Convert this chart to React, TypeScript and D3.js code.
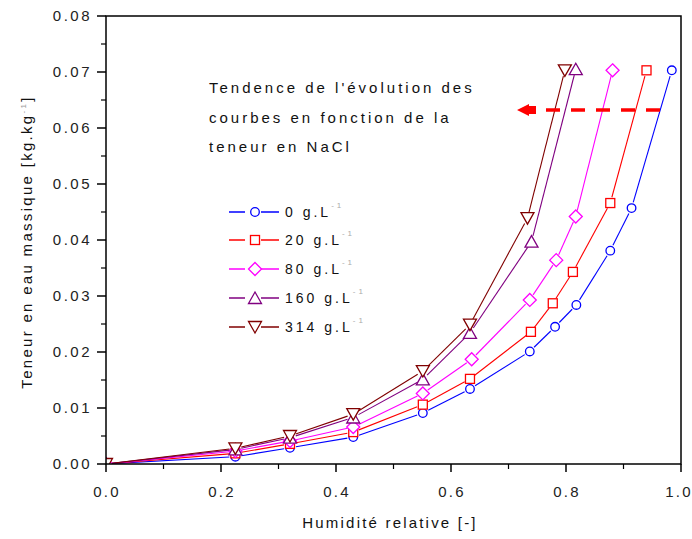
import React from "react";
import * as d3 from "d3";

const seriesNames = ["0 g.L", "20 g.L", "80 g.L", "160 g.L", "314 g.L"];
const seriesColors = ["#0000ff", "#ff0000", "#ff00ff", "#800080", "#800000"];
const seriesShapes = ["circle", "square", "diamond", "triangleUp", "triangleDown"];

const x0 = [0, 0.225, 0.32, 0.43, 0.551, 0.633, 0.737, 0.781, 0.818, 0.877, 0.914, 0.984];
const y0 = [0, 0.0013, 0.0029, 0.0048, 0.0091, 0.0134, 0.0201, 0.0245, 0.0284, 0.0381, 0.0457, 0.0703];
const x20 = [0, 0.225, 0.32, 0.43, 0.551, 0.633, 0.739, 0.777, 0.812, 0.877, 0.94];
const y20 = [0, 0.0019, 0.0036, 0.0057, 0.0106, 0.0152, 0.0236, 0.0287, 0.0343, 0.0466, 0.0703];
const x80 = [0, 0.225, 0.32, 0.43, 0.551, 0.636, 0.737, 0.783, 0.817, 0.881];
const y80 = [0, 0.0023, 0.0041, 0.0066, 0.0126, 0.0187, 0.0293, 0.0364, 0.0442, 0.0703];
const x160 = [0, 0.225, 0.32, 0.43, 0.551, 0.633, 0.74, 0.817];
const y160 = [0, 0.0026, 0.0047, 0.0083, 0.0151, 0.0234, 0.0397, 0.0705];
const x314 = [0, 0.225, 0.32, 0.43, 0.551, 0.633, 0.733, 0.798];
const y314 = [0, 0.0028, 0.005, 0.0089, 0.0166, 0.0249, 0.0439, 0.0703];

const seriesX = [x0, x20, x80, x160, x314];
const seriesY = [y0, y20, y80, y160, y314];

const xTicks = [0, 0.2, 0.4, 0.6, 0.8, 1.0];
const yTicks = [0, 0.01, 0.02, 0.03, 0.04, 0.05, 0.06, 0.07, 0.08];
const annotationLines = ["Tendence de l'évolution des", "courbes en fonction de la", "teneur en NaCl"];

const FONT = "'Liberation Sans', Arial, sans-serif";

function Marker({ shape, x, y, color }: { shape: string; x: number; y: number; color: string }) {
  const common = { fill: "white", stroke: color, strokeWidth: 1.3 };
  if (shape === "circle") return <circle cx={x} cy={y} r={4.3} {...common} />;
  if (shape === "square") return <rect x={x - 4.5} y={y - 4.5} width={9} height={9} {...common} />;
  if (shape === "diamond")
    return <path d={`M${x},${y - 6.5}L${x + 6.5},${y}L${x},${y + 6.5}L${x - 6.5},${y}Z`} {...common} />;
  if (shape === "triangleUp")
    return <path d={`M${x},${y - 6}L${x + 6.5},${y + 5.5}L${x - 6.5},${y + 5.5}Z`} {...common} />;
  return <path d={`M${x},${y + 6}L${x + 6.5},${y - 5.5}L${x - 6.5},${y - 5.5}Z`} {...common} />;
}

export default function App() {
  const W = 692, H = 539;
  const L = 106, R = 681, T = 16, B = 464;
  const xs = d3.scaleLinear().domain([0, 1]).range([L, R]);
  const ys = d3.scaleLinear().domain([0, 0.08]).range([B, T]);
  const xMinor = d3.range(0.1, 1, 0.2);
  const yMinor = d3.range(0.005, 0.08, 0.01);

  const gap = 6;
  const segs = (xa: number[], ya: number[]) => {
    const out: { x1: number; y1: number; x2: number; y2: number }[] = [];
    for (let i = 0; i < xa.length - 1; i++) {
      const ax = xs(xa[i]), ay = ys(ya[i]), bx = xs(xa[i + 1]), by = ys(ya[i + 1]);
      const len = Math.hypot(bx - ax, by - ay);
      if (len <= 2 * gap) continue;
      const ux = (bx - ax) / len, uy = (by - ay) / len;
      out.push({ x1: ax + ux * gap, y1: ay + uy * gap, x2: bx - ux * gap, y2: by - uy * gap });
    }
    return out;
  };

  const legendY = [212, 240, 269, 298, 327];

  return (
    <svg width={W} height={H} style={{ position: "absolute", left: 0, top: 0, background: "white" }} fontFamily={FONT}>
      <defs>
        <clipPath id="plot">
          <rect x={L} y={T} width={R - L} height={B - T} />
        </clipPath>
      </defs>
      <rect x={0} y={0} width={W} height={H} fill="white" />
      {/* series */}
      <g clipPath="url(#plot)">
        {seriesX.map((xa, si) => (
          <g key={si}>
            {segs(xa, seriesY[si]).map((s, i) => (
              <line key={i} x1={s.x1} y1={s.y1} x2={s.x2} y2={s.y2} stroke={seriesColors[si]} strokeWidth={1.1} />
            ))}
            {xa.map((xv, i) => (
              <Marker key={i} shape={seriesShapes[si]} x={xs(xv)} y={ys(seriesY[si][i])} color={seriesColors[si]} />
            ))}
          </g>
        ))}
      </g>
      {/* frame */}
      <rect x={L} y={T} width={R - L} height={B - T} fill="none" stroke="black" strokeWidth={1.5} />
      {/* x ticks */}
      {xTicks.map((t) => (
        <g key={"xt" + t}>
          <line x1={xs(t)} x2={xs(t)} y1={B} y2={B + 8} stroke="black" strokeWidth={1.5} />
          <text x={xs(t) + (t === 1 ? -2 : 1)} y={497} textAnchor="middle" fontSize={15} letterSpacing={2.2} fill="#222">
            {t.toFixed(1)}
          </text>
        </g>
      ))}
      {xMinor.map((t) => (
        <line key={"xm" + t} x1={xs(t)} x2={xs(t)} y1={B} y2={B + 5} stroke="black" strokeWidth={1.2} />
      ))}
      {/* y ticks */}
      {yTicks.map((t) => (
        <g key={"yt" + t}>
          <line x1={L - 9} x2={L} y1={ys(t)} y2={ys(t)} stroke="black" strokeWidth={1.5} />
          <text x={92} y={ys(t) + 5} textAnchor="end" fontSize={15} letterSpacing={2.5} fill="#222">
            {t.toFixed(2)}
          </text>
        </g>
      ))}
      {yMinor.map((t) => (
        <line key={"ym" + t} x1={L - 5} x2={L} y1={ys(t)} y2={ys(t)} stroke="black" strokeWidth={1.2} />
      ))}
      {/* axis titles */}
      <text x={390} y={528} textAnchor="middle" fontSize={15} letterSpacing={2.2} fill="#111">
        Humidité relative [-]
      </text>
      <text transform="translate(32,242) rotate(-90)" textAnchor="middle" fontSize={15} letterSpacing={2.3} fill="#111">
        Teneur en eau massique [kg.kg
        <tspan fontSize={8} dy={-6} fill="#999">-1</tspan>
        <tspan dy={6}>]</tspan>
      </text>
      {/* annotation */}
      {annotationLines.map((s, i) => (
        <text key={s} x={209} y={93 + i * 29.5} fontSize={15} letterSpacing={3} fill="#111">
          {s}
        </text>
      ))}
      {/* arrow */}
      <line x1={660} x2={534} y1={110} y2={110} stroke="#ff0000" strokeWidth={3.5} strokeDasharray="14,11" />
      <path d="M517,110L529,104L529,106L536,106L536,114L529,114L529,116Z" fill="#ff0000" />
      {/* legend */}
      {seriesNames.map((n, i) => (
        <g key={n}>
          <line x1={229} x2={279} y1={legendY[i]} y2={legendY[i]} stroke={seriesColors[i]} strokeWidth={1.3} />
          <rect x={245} y={legendY[i] - 7} width={16} height={14} fill="white" />
          <Marker shape={seriesShapes[i]} x={255} y={legendY[i]} color={seriesColors[i]} />
          <text x={285} y={legendY[i] + 5} fontSize={14} letterSpacing={3} fill="#111">
            {n}
            <tspan fontSize={8} dy={-9} fill="#aaa">-1</tspan>
          </text>
        </g>
      ))}
    </svg>
  );
}
